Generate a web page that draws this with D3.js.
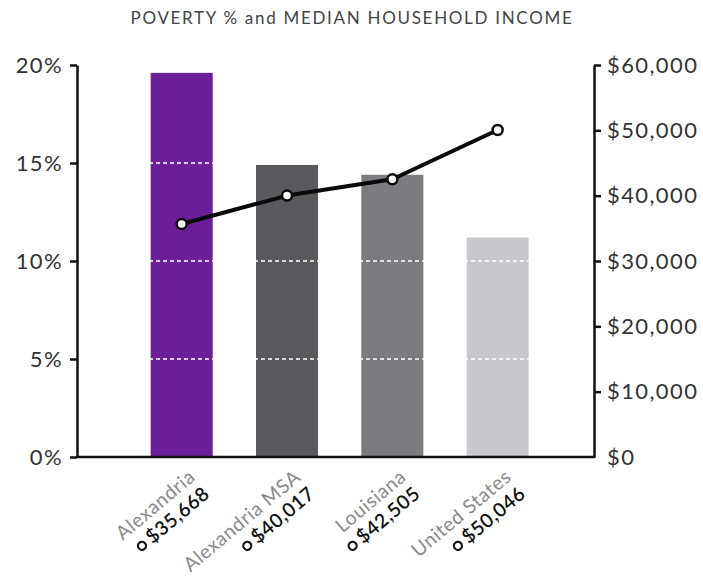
<!DOCTYPE html>
<html>
<head>
<meta charset="utf-8">
<script src="https://cdn.jsdelivr.net/npm/d3@7"></script>
<style>
  html, body { margin: 0; padding: 0; background: #ffffff; }
  svg { display: block; font-family: Lato, "Open Sans", sans-serif; }
</style>
</head>
<body>
<svg id="chart" width="703" height="579"></svg>
<script>
// Poverty rate (bars, left axis) and median household income (line, right axis)
const categories = ["Alexandria", "Alexandria MSA", "Louisiana", "United States"];
const povertyPct = [19.6, 14.9, 14.4, 11.2];
const medianIncome = [35668, 40017, 42505, 50046];
const pctTicks = [0, 5, 10, 15, 20];
const incomeTicks = [0, 10000, 20000, 30000, 40000, 50000, 60000];
const barColors = ["#6a1f98", "#59585d", "#7c7b80", "#c9c8cd"];

const svg = d3.select("#chart");
const plotLeft = 77, plotRight = 594, plotTop = 65, plotBottom = 457;

const x = d3.scaleBand()
  .domain(categories)
  .range([plotLeft, plotRight])
  .paddingInner(0.411)
  .paddingOuter(0.66)
  .align(0.53);

const yPct = d3.scaleLinear().domain([0, 20]).range([plotBottom, plotTop]);
const yInc = d3.scaleLinear().domain([0, 60000]).range([plotBottom, plotTop]);

// title
svg.append("text")
  .attr("x", 352).attr("y", 24)
  .attr("text-anchor", "middle")
  .attr("fill", "#444")
  .style("font-size", "17px")
  .style("letter-spacing", "1.7px")
  .text("POVERTY % and MEDIAN HOUSEHOLD INCOME");

// bars
svg.append("g").selectAll("rect")
  .data(categories)
  .join("rect")
  .attr("x", d => x(d))
  .attr("width", x.bandwidth())
  .attr("y", (d, i) => yPct(povertyPct[i]))
  .attr("height", (d, i) => plotBottom - yPct(povertyPct[i]))
  .attr("fill", (d, i) => barColors[i]);

// white dashed gridlines, visible across the bars
svg.append("g").selectAll("line")
  .data(pctTicks.filter(t => t > 0 && t < 20))
  .join("line")
  .attr("x1", plotLeft + 2).attr("x2", plotRight - 2)
  .attr("y1", d => yPct(d)).attr("y2", d => yPct(d))
  .attr("stroke", "#ffffff")
  .attr("stroke-width", 1.3)
  .attr("stroke-dasharray", "4,3");

// axes
const leftAxis = d3.axisLeft(yPct)
  .tickValues(pctTicks)
  .tickFormat(d => d + "%")
  .tickSize(7).tickSizeOuter(0).tickPadding(7);
const rightAxis = d3.axisRight(yInc)
  .tickValues(incomeTicks)
  .tickFormat(d => "$" + d3.format(",")(d))
  .tickSize(7).tickSizeOuter(0).tickPadding(6);

function styleAxis(g) {
  g.select(".domain").attr("stroke", "#111").attr("stroke-width", 2.5);
  g.selectAll(".tick line").attr("stroke", "#111").attr("stroke-width", 2.5);
  g.selectAll(".tick text")
    .attr("fill", "#333")
    .style("font-size", "22px")
    .style("letter-spacing", "1.4px")
    .style("font-family", "Lato, sans-serif");
}

svg.append("g").attr("transform", `translate(${plotLeft},0)`).call(leftAxis).call(styleAxis);
const ra = svg.append("g").attr("transform", `translate(${plotRight},0)`).call(rightAxis).call(styleAxis);
ra.selectAll(".tick").filter(d => d === 0).select("line").remove();

// baseline
svg.append("line")
  .attr("x1", plotLeft - 1.25).attr("x2", plotRight + 1.25)
  .attr("y1", plotBottom).attr("y2", plotBottom)
  .attr("stroke", "#111").attr("stroke-width", 2.5);

// income line
const cx = d => x(d) + x.bandwidth() / 2;
const line = d3.line()
  .x((d, i) => cx(categories[i]))
  .y(d => yInc(d));

svg.append("path")
  .datum(medianIncome)
  .attr("d", line)
  .attr("fill", "none")
  .attr("stroke", "#0a0a0a")
  .attr("stroke-width", 4)
  .attr("stroke-linejoin", "round");

svg.append("g").selectAll("circle")
  .data(medianIncome)
  .join("circle")
  .attr("cx", (d, i) => cx(categories[i]))
  .attr("cy", d => yInc(d))
  .attr("r", 5)
  .attr("fill", "#fff")
  .attr("stroke", "#0a0a0a")
  .attr("stroke-width", 2.5);

// rotated category labels with income values
const fmtMoney = d => "$" + d3.format(",")(d);
const labels = svg.append("g").selectAll("g")
  .data(categories)
  .join("g")
  .attr("transform", d => `translate(${cx(d) + 15},479) rotate(-40)`);

labels.append("text")
  .attr("text-anchor", "end")
  .attr("fill", "#8a8a8a")
  .style("font-size", "19.5px")
  .style("letter-spacing", "0.6px")
  .text(d => d);

labels.append("text")
  .attr("class", "val")
  .attr("y", 22)
  .attr("text-anchor", "end")
  .attr("fill", "#111")
  .style("font-size", "19.5px")
  .style("letter-spacing", "0.5px")
  .style("font-weight", "600")
  .text((d, i) => fmtMoney(medianIncome[i]));

labels.each(function () {
  const g = d3.select(this);
  const w = g.select("text.val").node().getComputedTextLength();
  g.append("circle")
    .attr("cx", -w - 9)
    .attr("cy", 16)
    .attr("r", 4)
    .attr("fill", "#fff")
    .attr("stroke", "#111")
    .attr("stroke-width", 2.2);
});
</script>
</body>
</html>
